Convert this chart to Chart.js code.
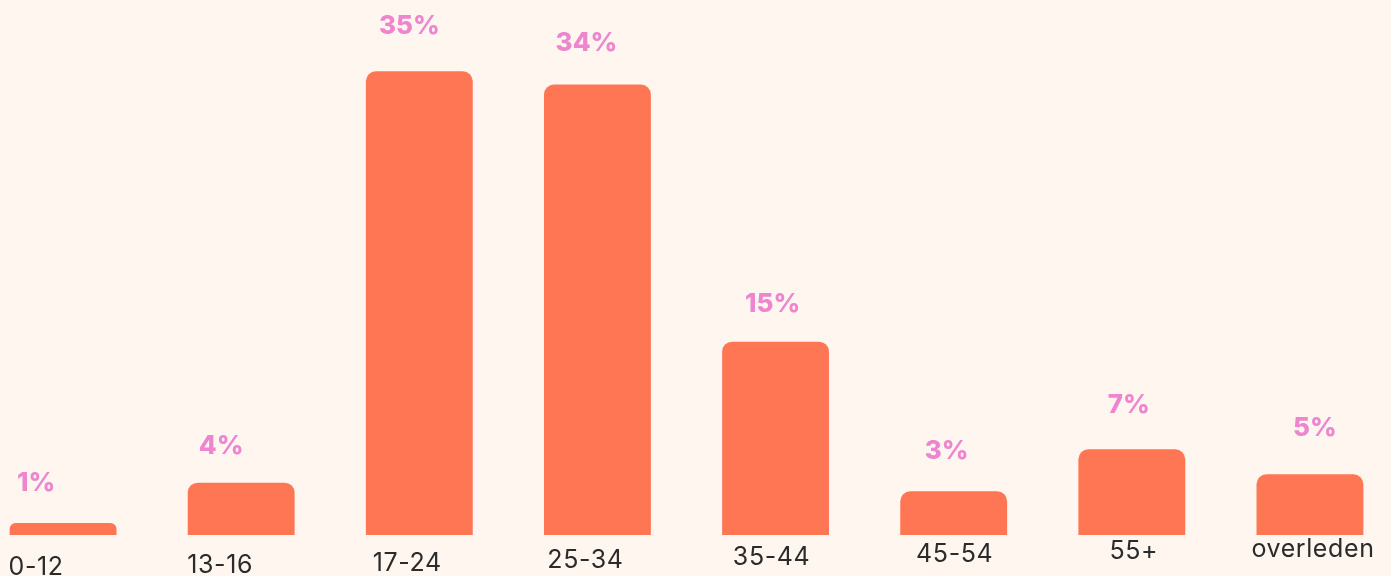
<!DOCTYPE html>
<html>
<head>
<meta charset="utf-8">
<script src="https://cdn.jsdelivr.net/npm/chart.js@4.4.1/dist/chart.umd.min.js"></script>
<style>
  html, body { margin: 0; padding: 0; background: #FFF6F0; overflow: hidden; width: 1391px; height: 576px; }
  #wrap { position: absolute; left: -26px; top: 0; width: 1425px; height: 576px; }
  canvas { display: block; }
</style>
</head>
<body>
<div id="wrap"><canvas id="c" width="1425" height="576"></canvas></div>
<script>
// ---- data ----
const categories = ['0-12', '13-16', '17-24', '25-34', '35-44', '45-54', '55+', 'overleden'];
const shares = [0.91, 3.95, 35, 34, 14.59, 3.3, 6.47, 4.58];      // bar heights (%)
const shareLabels = [1, 4, 35, 34, 15, 3, 7, 5];                  // printed percentages
const yMax = 40;

// ---- style (positions / offsets of text) ----
const STYLE = {
  bg: '#FFF6F0',
  bar: '#FF7654',
  pink: '#EE86CF',
  text: '#2B2B2B',
  tickDx: [-27, -21, -12, -12, -4, 1, 2, 3],
  tickDy: [40, 38, 36, 33, 30, 27, 24, 22],
  pinkDx: [-27, -20, -10, -11, -3, -7, -3, 5],
  pinkGap: [32, 29, 37, 34, 30, 32, 36, 38]
};

const labelPlugin = {
  id: 'labelPlugin',
  afterDatasetsDraw(chart) {
    const ctx = chart.ctx;
    const meta = chart.getDatasetMeta(0);
    const bottom = chart.chartArea.bottom;
    ctx.save();
    ctx.textAlign = 'center';
    ctx.textBaseline = 'alphabetic';
    meta.data.forEach((el, i) => {
      ctx.fillStyle = STYLE.pink;
      ctx.font = '800 26px Inter';
      if ('letterSpacing' in ctx) ctx.letterSpacing = '0px';
      ctx.fillText(shareLabels[i] + '%', el.x + STYLE.pinkDx[i], el.y - STYLE.pinkGap[i]);
      ctx.fillStyle = STYLE.text;
      ctx.font = '400 25px Inter';
      if ('letterSpacing' in ctx) ctx.letterSpacing = '0.6px';
      ctx.fillText(categories[i], el.x + STYLE.tickDx[i], bottom + STYLE.tickDy[i]);
    });
    ctx.restore();
  }
};

function draw() {
  new Chart(document.getElementById('c'), {
    type: 'bar',
    data: {
      labels: categories,
      datasets: [{
        data: shares,
        backgroundColor: STYLE.bar,
        borderRadius: 10,
        borderSkipped: 'start',
        barPercentage: 0.6,
        categoryPercentage: 1.0
      }]
    },
    options: {
      responsive: false,
      animation: false,
      layout: { padding: { top: 5, bottom: 41, left: 0, right: 0 } },
      plugins: { legend: { display: false }, tooltip: { enabled: false } },
      scales: {
        x: { display: false },
        y: { display: false, min: 0, max: yMax }
      }
    },
    plugins: [labelPlugin]
  });
}

if (document.fonts && document.fonts.load) {
  Promise.all([document.fonts.load('800 26px Inter'), document.fonts.load('400 25px Inter')])
    .then(draw, draw);
} else { draw(); }
</script>
</body>
</html>
